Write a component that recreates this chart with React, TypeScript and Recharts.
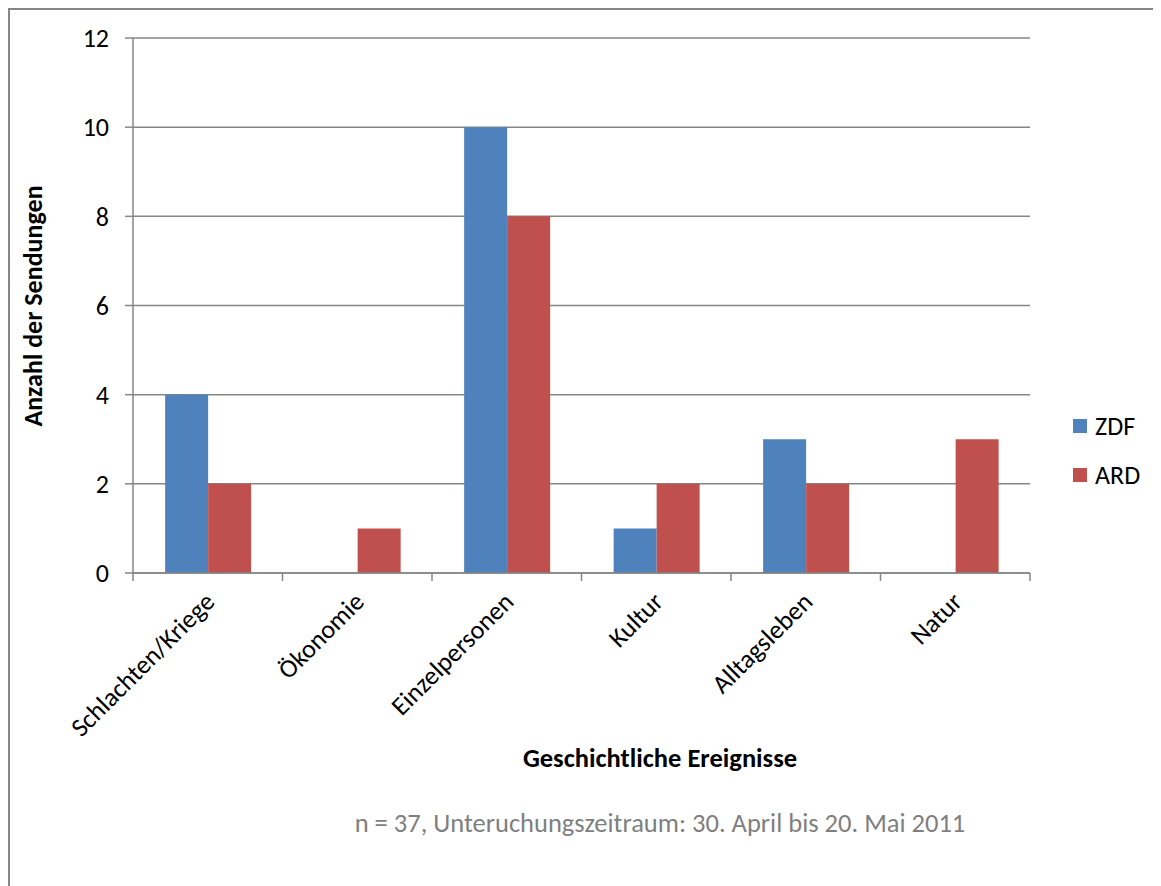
import { Bar, BarChart, CartesianGrid, Legend, XAxis, YAxis } from "recharts";

const categories = ["Schlachten/Kriege", "Ökonomie", "Einzelpersonen", "Kultur", "Alltagsleben", "Natur"];
const zdf = [4, 0, 10, 1, 3, 0];
const ard = [2, 1, 8, 2, 2, 3];
const seriesNames = ["ZDF", "ARD"];
const yTicks = [0, 2, 4, 6, 8, 10, 12];

const data = categories.map((name, i) => ({ name, ZDF: zdf[i], ARD: ard[i] }));

const FONT = "Carlito, Calibri, Lato, sans-serif";
const GRAY = "#868686";

function CategoryTick(props: any) {
  const { x, y, payload, index, visibleTicksCount } = props;
  const half = payload?.offset ?? 0;
  const last = index === visibleTicksCount - 1;
  return (
    <g>
      <line x1={x - half} y1={y} x2={x - half} y2={y + 8} stroke={GRAY} strokeWidth={1.5} />
      {last && <line x1={x + half} y1={y} x2={x + half} y2={y + 8} stroke={GRAY} strokeWidth={1.5} />}
      <text
        x={x + 2}
        y={y + 24}
        transform={`rotate(-45, ${x + 2}, ${y + 24})`}
        textAnchor="end"
        dominantBaseline="central"
        fontSize={26}
        fontFamily={FONT}
        fill="#000"
      >
        {payload.value}
      </text>
    </g>
  );
}

function LegendBox(props: any) {
  const items = [...(props.payload || [])].sort(
    (a: any, b: any) => seriesNames.indexOf(a.value) - seriesNames.indexOf(b.value)
  );
  return (
    <div style={{ fontFamily: FONT, fontSize: 26 }}>
      {items.map((it: any) => (
        <div key={it.value} style={{ display: "flex", alignItems: "center", height: 49 }}>
          <span style={{ width: 14, height: 14, background: it.color, marginRight: 8 }} />
          <span>{it.value}</span>
        </div>
      ))}
    </div>
  );
}

export default function App() {
  return (
    <div style={{ position: "relative", width: 1153, height: 878, fontFamily: FONT }}>
      <div
        style={{
          position: "absolute",
          left: 0,
          top: 0,
          width: 1153,
          height: 878,
          borderLeft: `2px solid ${GRAY}`,
          borderTop: `2px solid ${GRAY}`,
          boxSizing: "border-box",
        }}
      />
      <BarChart
        width={1153}
        height={878}
        data={data}
        margin={{ top: 30, right: 131, left: 0, bottom: 0 }}
        barCategoryGap="21.5%"
        barGap={0}
        style={{ position: "absolute", left: 0, top: 0 }}
      >
        <CartesianGrid vertical={false} stroke={GRAY} strokeWidth={1.5} />
        <XAxis
          dataKey="name"
          height={313}
          interval={0}
          tickSize={0}
          tickMargin={0}
          tickLine={false}
          axisLine={{ stroke: GRAY, strokeWidth: 1.5 }}
          tick={<CategoryTick />}
        />
        <YAxis
          width={125}
          domain={[0, 12]}
          ticks={yTicks}
          interval={0}
          tickSize={8}
          tickMargin={16}
          tickLine={{ stroke: GRAY, strokeWidth: 1.5 }}
          axisLine={{ stroke: GRAY, strokeWidth: 1.5 }}
          tick={{ fill: "#000", fontSize: 26, fontFamily: FONT }}
        />
        <Legend
          layout="vertical"
          verticalAlign="middle"
          align="center"
          wrapperStyle={{ left: 1065, top: 393, width: 90 }}
          content={<LegendBox />}
        />
        <Bar dataKey="ZDF" fill="#4F81BD" isAnimationActive={false} />
        <Bar dataKey="ARD" fill="#C0504D" isAnimationActive={false} />
      </BarChart>
      <div style={{ position: "absolute", left: 25, top: 298, width: 0, height: 0 }}>
        <div
          style={{
            position: "absolute",
            transform: "translate(-50%, -50%) rotate(-90deg)",
            whiteSpace: "nowrap",
            fontWeight: "bold",
            fontSize: 26,
          }}
        >
          Anzahl der Sendungen
        </div>
      </div>
      <div
        style={{
          position: "absolute",
          left: 0,
          width: 1304,
          top: 734,
          textAlign: "center",
          fontWeight: "bold",
          fontSize: 26.5,
        }}
      >
        Geschichtliche Ereignisse
      </div>
      <div
        style={{
          position: "absolute",
          left: 0,
          width: 1304,
          top: 799,
          textAlign: "center",
          fontSize: 26.5,
          color: "#7f7f7f",
        }}
      >
        n = 37, Unteruchungszeitraum: 30. April bis 20. Mai 2011
      </div>
    </div>
  );
}
